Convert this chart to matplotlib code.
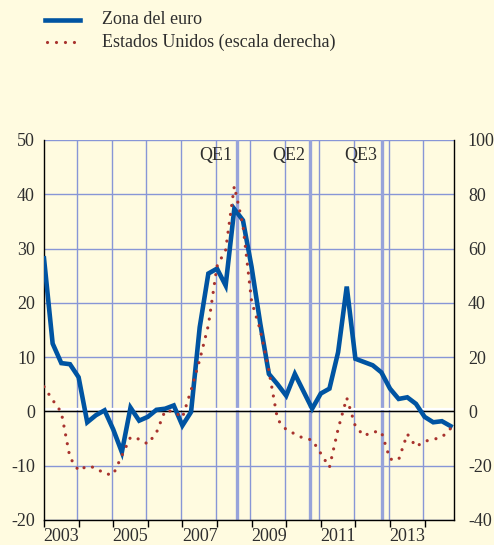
import matplotlib
matplotlib.use("Agg")
import matplotlib.pyplot as plt
import matplotlib.transforms as mtransforms
from matplotlib.lines import Line2D
import numpy as np

# ---------------- data (quarterly, starting 2003 Q1) ----------------
start_year = 2003
euro_area = [28.2, 12.5, 8.9, 8.7, 6.3, -2.0, -0.7, 0.2,
             -3.3, -7.5, 0.7, -1.7, -1.0, 0.3, 0.5, 1.1,
             -2.6, -0.1, 15.5, 25.4, 26.3, 23.2, 37.3, 35.2,
             26.6, 16.2, 6.9, 5.0, 2.9, 6.9, 3.7, 0.5,
             3.3, 4.2, 10.9, 23.0, 9.7, 9.1, 8.5, 7.2,
             4.2, 2.3, 2.6, 1.4, -1.0, -2.0, -1.8, -2.7]
united_states = [9.1, 4.2, -0.3, -17.0, -21.8, -20.1, -20.8, -23.0,
                 -23.3, -16.3, -9.5, -10.2, -12.0, -7.8, 0.3, 0.0,
                 -2.3, 7.8, 19.0, 31.7, 53.5, 59.5, 83.0, 68.5,
                 40.5, 30.0, 15.0, -3.0, -6.7, -8.3, -9.9, -10.5,
                 -15.5, -20.6, -6.5, 5.0, -5.5, -9.0, -7.5, -7.5,
                 -17.6, -17.8, -8.3, -13.0, -11.0, -10.3, -9.5, -6.3]
qe_labels = ["QE1", "QE2", "QE3"]
qe_dates = [2008.58, 2010.69, 2012.76]
year_ticks = list(range(2003, 2015))
year_labels = ["2003", "", "2005", "", "2007", "", "2009", "", "2011", "", "2013", ""]
left_ticks = [-20, -10, 0, 10, 20, 30, 40, 50]
right_ticks = [-40, -20, 0, 20, 40, 60, 80, 100]
legend_labels = ["Zona del euro", "Estados Unidos (escala derecha)"]

# ---------------- style ----------------
BG = "#FFFBE0"
BLUE = "#0054A2"
RED = "#A8332E"
GRID = "#8896D6"
QECOL = "#97A3DA"
TXT = "#2E2E2E"
FONT = "Liberation Serif"
FS = 13
DOTS = (0, (0.01, 2.8))
plt.rcParams["font.family"] = [FONT, "DejaVu Serif"]

W, H = 494, 545
fig = plt.figure(figsize=(W / 100, H / 100), dpi=100, facecolor=BG)
ax = fig.add_axes([44 / W, 25 / H, 410 / W, 380 / H])
ax.set_facecolor(BG)

x = start_year + 0.25 * np.arange(len(euro_area))
ax.set_xlim(2003, 2003 + 410 / 34.6)
ax.set_ylim(-20, 50)

# grid
for v in left_ticks:
    ax.axhline(v, color=GRID, lw=1.0, zorder=1)
for yr in year_ticks[1:]:
    ax.axvline(yr - 0.04, color=GRID, lw=1.0, zorder=1)

# QE lines + labels
for d, lab in zip(qe_dates, qe_labels):
    ax.axvline(d, color=QECOL, lw=2.4, zorder=1.5)
    tr = mtransforms.offset_copy(ax.transData, fig=fig, x=-4.5, y=0, units="dots")
    ax.text(d, 47.1, lab, transform=tr, ha="right", va="center",
            fontsize=FS, color=TXT, zorder=2)

# zero line with white highlight
tr_w = mtransforms.offset_copy(ax.get_yaxis_transform(), fig=fig, x=0, y=2.0, units="dots")
ax.plot([0, 1], [0, 0], transform=tr_w, color="white", lw=1.6, zorder=2)
ax.axhline(0, color="black", lw=1.0, zorder=2.1)

# euro area line
ax.plot(x, euro_area, color=BLUE, lw=3.3, solid_joinstyle="miter", zorder=3)

# right axis
ax2 = ax.twinx()
ax2.set_ylim(-40, 100)
ax2.plot(x, united_states, color=RED, lw=2.3, linestyle=DOTS,
         dash_capstyle="round", zorder=4)

# ticks
ax.set_yticks(left_ticks)
ax.set_yticklabels([str(v) for v in left_ticks])
ax2.set_yticks(right_ticks)
ax2.set_yticklabels([str(v) for v in right_ticks])
ax.set_xticks(year_ticks)
ax.set_xticklabels([])
ax.set_xticks([y + 0.5 for y in year_ticks], minor=True)
ax.set_xticklabels(year_labels, minor=True)
ax.tick_params(axis="x", which="major", direction="out", length=5, width=1, color="black")
ax.tick_params(axis="x", which="minor", length=0, pad=6, labelsize=FS, labelcolor=TXT)
ax.tick_params(axis="y", length=0, pad=6.5, labelsize=FS, labelcolor=TXT)
ax2.tick_params(axis="y", length=0, pad=10, labelsize=FS, labelcolor=TXT)

for a in (ax, ax2):
    a.spines["top"].set_visible(False)
ax.spines["right"].set_visible(False)
ax2.spines["left"].set_visible(False)
ax2.spines["bottom"].set_visible(False)
for s in ("left", "bottom"):
    ax.spines[s].set_color("black")
    ax.spines[s].set_linewidth(1.0)
ax2.spines["right"].set_color("black")
ax2.spines["right"].set_linewidth(1.0)

# legend (figure coordinates)
fig.add_artist(Line2D([45 / W, 80 / W], [1 - 20 / H] * 2, transform=fig.transFigure,
                      color=BLUE, lw=3.3))
fig.add_artist(Line2D([47 / W, 80 / W], [1 - 42 / H] * 2, transform=fig.transFigure,
                      color=RED, lw=2.3, linestyle=DOTS, dash_capstyle="round"))
fig.text(102 / W, 1 - 20 / H, legend_labels[0], ha="left", va="center", fontsize=FS, color=TXT)
fig.text(102 / W, 1 - 42 / H, legend_labels[1], ha="left", va="center", fontsize=FS, color=TXT)

fig.savefig("out.png", dpi=100, facecolor=BG)
